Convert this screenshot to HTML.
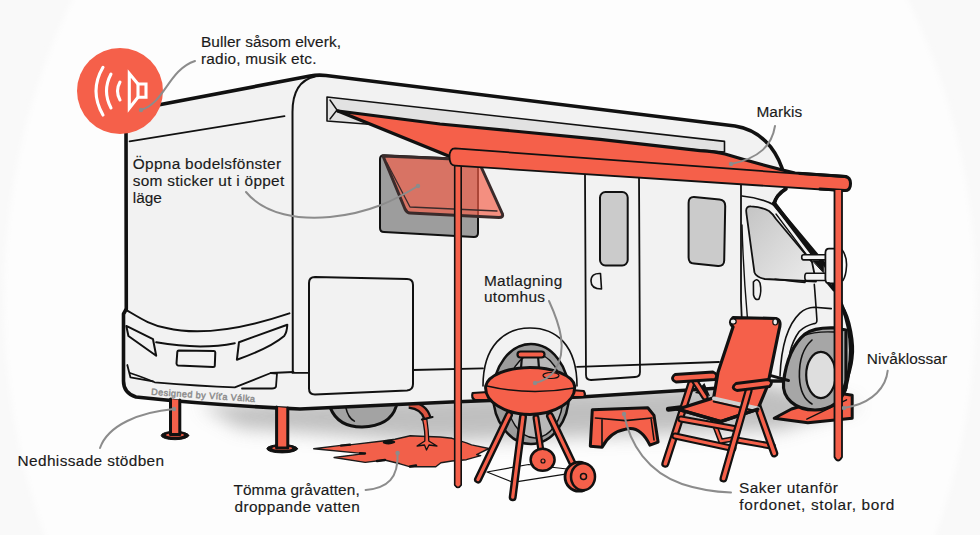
<!DOCTYPE html>
<html><head><meta charset="utf-8">
<style>
html,body{margin:0;padding:0;width:980px;height:535px;overflow:hidden;background:#fbfbfb;}
svg{display:block;}
text{font-family:"Liberation Sans",sans-serif;fill:#1a1a1a;font-size:15.4px;stroke:#1a1a1a;stroke-width:0.15px;}
</style></head><body>
<svg width="980" height="535" viewBox="0 0 980 535">
<defs>
<filter id="soft" x="-10%" y="-10%" width="120%" height="120%"><feGaussianBlur stdDeviation="2.5"/></filter>
<filter id="blur8" x="-20%" y="-50%" width="140%" height="200%"><feGaussianBlur stdDeviation="9"/></filter>
<linearGradient id="cabwin" x1="0" y1="0" x2="1" y2="1"><stop offset="0" stop-color="#c4c4c4"/><stop offset="1" stop-color="#ececec"/></linearGradient>
</defs>
<rect width="980" height="535" fill="#f9f9f9"/>
<ellipse cx="490" cy="300" rx="486" ry="588" fill="#fdfdfd" filter="url(#soft)"/>

<!-- shadow under RV -->
<path d="M200,405 L760,382 L860,405 L780,430 L430,442 L240,428 Z" fill="#b0b0b0" filter="url(#blur8)" opacity="0.8"/>

<g id="rv" stroke="#111" stroke-linejoin="round" stroke-linecap="round" fill="none">
<!-- far wheel -->
<path d="M328,400 L330.2,407.6 Q338,427 362,427 Q390,426 396.1,406.6 L398,400 Z" fill="#a3a3a3" stroke-width="3"/>
<path d="M345.7,407 Q348,418 354.4,421.2" stroke-width="1.5"/>
<!-- puddle -->
<path d="M313.7,448.8 L340.9,445.4 L349.7,444.9 L382.7,441 L395,439.3 L405,437 L410.3,435.7 L420.5,436.2 L440,437 L452,438.3 L466.4,442.9 L471.5,444.9 L488.9,448.5 L476.6,454.6 L480.7,455.6 L466.4,459.7 L452,461 L440.9,462.8 L435.8,466.8 L410.3,466.8 L400,463.8 L384.6,460 L365.2,462.4 L334.1,457.5 L364.2,453.6 Z" fill="#f2604a" stroke="#1a1a1a" stroke-width="1.4"/>
<path d="M341,445.6 L350,444.6 M384,442.3 Q389,440 394,442 Q389,444.5 384,442.3 M410,466.5 L416,465.5 M360,453.2 L365,453.5 M377,461 L385,460" stroke="#111" stroke-width="2.4"/>
<!-- pipe -->
<path d="M422.5,419 Q425.5,432 424.8,441 L417,446 L424.5,445 L426.5,450 L429,445 L437,446 L428.8,441 Q428.5,430 426.8,419 Z" fill="#f5604a" stroke-width="1.3"/>
<path d="M409,404.5 Q424,406 427.5,418.5" stroke="#111" stroke-width="8.5" stroke-linecap="butt"/>
<path d="M409,404.5 Q424,406 427.5,418.5" stroke="#dc5440" stroke-width="4" stroke-linecap="butt"/>
<path d="M422,419.5 L432.5,417" stroke="#111" stroke-width="2.2"/>
<!-- main body -->
<path d="M126,124 Q126,112 137,109 L310,76 Q318,74.5 326,75.5 L735,126 C760,130 775,148 782,168 L786,189 Q776,195 774,204 L826,266 L842,306 C852,330 853,360 845,390 L782,381 L770,381 L720,388 L580,397 L451,402 L300,409 Q210,405 136,397 Q123.5,393 123.5,381 L123.5,314 L126.3,309 Z" fill="#f2f2f2" stroke-width="3.6"/>

<!-- rear details -->
<path d="M129.6,141.3 L284.5,116.2" stroke-width="1.8"/>
<path d="M292.8,372 L292.5,112 C292.5,92 299,80 315,76.5" stroke-width="2"/>
<path d="M125.3,309.4 C140,318 150,325 166.4,328 C200,336 240,330 289.4,313.4" stroke-width="2"/>
<path d="M126.3,325.9 L153,339.2 L156.2,355.7 L128.4,336 Z" stroke-width="2" fill="#f2f2f2"/>
<path d="M156.2,342.3 Q200,350 234.8,343.2" stroke-width="2"/>
<path d="M239,342.2 L287.3,324.7 Q287,332 284.2,336 Q270,348 236.9,359.7 Z" stroke-width="2" fill="#f2f2f2"/>
<path d="M178.8,350.6 L214,351 Q215.3,351 215.3,352.5 L214.8,365.5 Q214.8,367 213,367 L178,365.5 Q176.5,365 176.5,363.5 L177.3,352 Q177.5,350.6 178.8,350.6 Z" stroke-width="2" fill="#f2f2f2"/>
<path d="M127.3,365 L130.4,377.3 L153,381.4" stroke-width="1.8"/>
<path d="M130,373 Q145,378 154.7,382.3 Q200,386 234.8,387.4 L270.8,373 L277,373.5 L276,386.5 Q275.5,388.5 272,388.5 L242,388.5" stroke-width="1.8"/>
<path d="M270.8,373 L293.5,372" stroke-width="1.8"/>
<!-- side skirt -->
<path d="M292.5,372.9 L309,372.9 M413,370 L483,368.3 M577,366.8 L719,362" stroke-width="1.8"/>
<!-- hatch -->
<path d="M315,277 L407,279 Q413,279 413,285 L413,384 Q413,390 407,390.5 L315,394.5 Q309,394.5 309,388.5 L309,283 Q309,277 315,277 Z" stroke-width="2"/>
<!-- door -->
<path d="M585,175 L586,375 Q586,380 591,380 L635,377 Q640,377 640,372 L639,175" stroke-width="1.8"/>
<rect x="600" y="192" width="27.7" height="73.5" rx="5.5" fill="#cbcbcb" stroke-width="2"/>
<path d="M600.5,273.5 L601.5,289 Q591,289 591,281 Q591,273 600.5,273.5 Z" stroke-width="1.6"/>
<path d="M694,197 L719.5,199.5 Q725.2,200 725.2,206 L724.2,260.5 Q724.1,266.4 718,266 L694,263.6 Q688.6,263.2 688.6,257.5 L688.6,203 Q688.6,196.8 694,197 Z" fill="#cbcbcb" stroke-width="2"/>
<!-- cab -->
<path d="M741,184 L741,300 Q742,340 748,378" stroke-width="1.8"/>
<path d="M742,225 Q744,300 754,378" stroke-width="1.4"/>
<path d="M742,196 Q762,198 776,206" stroke-width="1.6"/>
<path d="M746.2,211 Q746,206 751,206.4 Q762,207 769,211 Q773,214 776,219 L812,262 L816,281.5 L764.7,279 Q756,277 754.4,272.2 L746.5,214 Z" fill="url(#cabwin)" stroke-width="1.8"/>
<path d="M774,203 L812,253" stroke-width="4"/>
<path d="M776,214 L812,262" stroke-width="1.3"/>
<path d="M775,279.2 Q795,281.5 805,282.4" stroke-width="1.6"/>
<path d="M753.4,282 Q757,277 760,283 Q762,292 759,299 Q755,301 753.5,295 Z" stroke-width="1.6"/>
<!-- fender / cab lower -->
<path d="M814.3,284.4 Q815.6,300 816.9,319.7 Q817,323.6 814.3,323.6 Q805,326 799.2,331.5 Q793,340 790,352 L786,378" stroke-width="1.6"/>
<path d="M780,376 Q782,330 799.9,313.2 Q806,307.5 814.3,307.3 L831.3,308.6" stroke-width="1.6"/>

<!-- side rear wheel -->
<path d="M483,386 C483,345 505,328 530,328 C556,328 577,345 577,386" stroke-width="1.6"/>
<ellipse cx="531" cy="394" rx="38" ry="50" fill="#9c9c9c" stroke-width="2.5"/>
<ellipse cx="535" cy="396" rx="28" ry="42" fill="#b8b8b8" stroke-width="1.5"/>
<!-- level block -->
<path d="M774.2,418.2 L791.5,409 L842.6,393.7 L852.2,395.2 L852.2,418.2 L807.9,422.8 Z" fill="#f5604a" stroke-width="3"/>
<path d="M806.8,419.2 L846.6,399.8" stroke-width="1.3"/>
<!-- front wheel -->
<path d="M846,330 L834,327.9 C822,327.5 812,329 805,334 C793,344 786,362 783.5,382 C782,398 795,410 815,410 C832,410 842,400 846,388 Z" fill="#a6a6a6" stroke-width="3.2"/>
<path d="M812,340 C803,348 799,362 799.4,377 C800,392 805,400 812,404" stroke-width="1.6"/>
<path d="M803,336 Q815,331 834,332" stroke-width="1.4"/>
<ellipse cx="820.9" cy="375" rx="14.7" ry="23.1" fill="#dedede" stroke-width="2.2"/>
<path d="M770,375.4 L788.5,380.5" stroke-width="3"/>
<!-- cab front bumper side -->
<path d="M841.5,306 C850,318 854,345 852,358 C851,370 846,382 842.3,392.5" stroke-width="3.2"/>
<!-- mirror -->
<path d="M813,261 L823.3,261 L823.3,272.2 Z" fill="#111" stroke-width="1"/>
<path d="M803.5,254.8 L826.4,254.8 L826.4,259.9 L803.5,259.9 Q801.7,259.9 801.7,257.3 Q801.7,254.8 803.5,254.8 Z" fill="#f2f2f2" stroke-width="1.6"/>
<path d="M806.5,273.3 L826.4,273.3 L826.4,280.5 L806.5,280.5 Q804.8,280.5 804.8,277 Q804.8,273.3 806.5,273.3 Z" fill="#f2f2f2" stroke-width="1.6"/>
<path d="M825.4,253 Q825.4,248.6 829,248.6 L836,248.6 L836,283.5 L829,283.5 Q825.4,283.5 825.4,279 Z" fill="#f2f2f2" stroke-width="1.8"/>
<path d="M841.8,249.6 Q847,256 846.5,266 Q846,276 842.9,280.5" stroke-width="1.6"/>
<path d="M828.6,283.5 L834,290" stroke-width="3"/>
<!-- legs -->
<ellipse cx="175" cy="435.5" rx="13.8" ry="4.2" fill="#111"/>
<ellipse cx="175" cy="435" rx="9" ry="1.8" fill="#e85a45" stroke="none"/>
<path d="M170.5,399 L170.5,434.5 L179.8,434.5 L179.8,400" fill="#f5604a" stroke-width="3"/>
<ellipse cx="282.2" cy="448.7" rx="15.4" ry="4.2" fill="#111"/>
<ellipse cx="282.2" cy="448.3" rx="10" ry="1.8" fill="#e85a45" stroke="none"/>
<path d="M276.6,407 L276.6,448 L287.8,448 L287.8,408" fill="#f5604a" stroke-width="3"/>

<!-- awning housing -->
<path d="M327,97 L724.5,141.4 L724.5,152 L327,121 Z" fill="#e2e2e2" stroke-width="1.6"/>
<path d="M330,100 L337,110 L330,119" stroke-width="1.4"/>
<!-- canvas -->
<path d="M338,111 L440,124 L600,139.3 L700,150.6 Q715,151.5 725,154 C745,160 765,166 790,172 L846,176.5 L452,157 Z" fill="#f5604a" stroke="none"/>
<path d="M338,111 L440,124 L600,139.3 L700,150.6 Q715,151.5 725,154 C745,160 765,166 795,173 L846,176.5" stroke-width="3.2"/>
<path d="M338,111 L451,157" stroke-width="3.5"/>
<!-- window opening -->
<path d="M384,155.3 L474,159.5 Q478,159.7 478,164 L478,233 Q478,237 474,237 L384,232 Q380,232 380,228 L380,159 Q380,155.3 384,155.3 Z" fill="#9d9d9d" stroke-width="2"/>
<!-- pane -->
<path d="M383,156 L478,160 L502.5,214 Q503.5,217.5 499,217.5 L410,213 Q407,213 405,209 Z" fill="#f5604a" fill-opacity="0.68" stroke="#3a2b2b" stroke-width="3"/>
<path d="M387,163 L410,207 L497,211" stroke="#3a2b2b" stroke-width="1.3"/>
<!-- pole 1 -->
<path d="M454.7,160 L454.7,485 Q458,490 461.2,485 L461.2,160" fill="#f5604a" stroke-width="1.6"/>
<!-- bar -->
<path d="M455,148.4 L845,177.2 Q850.5,177.7 850.5,184 Q850.5,191 845,191 L455,165.6 Q449.5,165.4 449.5,157 Q449.5,148.4 455,148.4 Z" fill="#f5604a" stroke-width="1.8"/>
<path d="M800,173.5 L845,176.5 Q850.5,177 850.5,183.5 Q850.5,190.5 845,190.5 L820,189" stroke-width="3"/>
<!-- A pillar top -->
<path d="M785,189 Q776,195 774,204" stroke-width="3"/>
<!-- pole 2 -->
<path d="M834.5,190 L834.5,457 Q838,464 842,457 L842,190" fill="#f5604a" stroke-width="1.8"/>

<!-- grill legs and rack -->
<path d="M487,472 L528.6,464.5 L567,469 M487,472 L512.7,482.3 L567,473.9" stroke-width="1.2"/>
<path d="M509,415 L478,479.5" stroke="#111" stroke-width="8"/>
<path d="M509,415 L478,479.5" stroke="#f5604a" stroke-width="3.2"/>
<path d="M536,417.8 L542.6,461.7" stroke="#111" stroke-width="7"/>
<path d="M536,417.8 L542.6,461.7" stroke="#f5604a" stroke-width="2.6"/>
<ellipse cx="542.6" cy="459.8" rx="12" ry="11" fill="#f5604a" stroke-width="2.5"/>
<circle cx="543" cy="461" r="2" stroke-width="1.2"/>
<path d="M523,416.8 L512.7,497.2" stroke="#111" stroke-width="8"/>
<path d="M523,416.8 L512.7,497.2" stroke="#f5604a" stroke-width="3.2"/>
<path d="M550,416 L573.5,465.4" stroke="#111" stroke-width="8"/>
<path d="M550,416 L573.5,465.4" stroke="#f5604a" stroke-width="3.2"/>
<ellipse cx="579" cy="476.7" rx="14" ry="14.5" fill="#f5604a" stroke-width="2.8"/>
<ellipse cx="583" cy="476.7" rx="12" ry="13.5" fill="#f5604a" stroke-width="2.5"/>
<circle cx="583.5" cy="476.5" r="3" fill="#f5604a" stroke-width="1.5"/>
<!-- grill bowl -->
<path d="M472.6,393 L488,392 L489,400 L475,400 Q471,398 472.6,393 Z" fill="#f5604a" stroke-width="2.2"/>
<path d="M571,390 L583.8,391 Q586,395 583.8,397 L572,397 Z" fill="#f5604a" stroke-width="2.2"/>
<path d="M485.7,386 C488,375 508,367.5 530,367.5 C552,367.5 573,375 574.6,386 C576,402 555,414 530,414.6 C505,414 484,402 485.7,386 Z" fill="#f5604a" stroke-width="3"/>
<path d="M487,386 Q530,396 574,388" stroke-width="1.5"/>
<path d="M521,368 L522,356 M539,368 L538,356" stroke-width="2.2"/>
<rect x="517.5" y="351.5" width="27" height="6" rx="3" fill="#f5604a" stroke-width="2.2"/>
<ellipse cx="551" cy="375.5" rx="8" ry="3" stroke-width="1.2"/>
<!-- stool -->
<path d="M592.3,409.8 L647.8,407.7 L654,415.4 L658.1,442.1 L649.9,445.2 Q640,425 625.2,429.3 Q610,432 602.1,447.3 L590.3,446.2 Z" fill="#f5604a" stroke-width="3"/>
<path d="M595.4,418 L625.2,420.6 L652,418 M602,420 L602,447 M651,418 L654,440" stroke-width="1.6"/>
<!-- chair -->
<path d="M668.4,409.2 L712,404" stroke-width="5"/>
<path d="M704.4,383 L695,393 L710,396 Z" fill="#111" stroke="none"/>
<path d="M692,381.5 L665.3,463.7" stroke="#111" stroke-width="8"/>
<path d="M692,381.5 L665.3,463.7" stroke="#f5604a" stroke-width="3.6"/>
<path d="M695.1,381.5 L705,397" stroke="#111" stroke-width="7"/>
<path d="M695.1,381.5 L705,397" stroke="#f5604a" stroke-width="3"/>
<path d="M675,436 L733,448.5" stroke="#111" stroke-width="7"/>
<path d="M675,436 L733,448.5" stroke="#f5604a" stroke-width="3"/>
<path d="M737.3,440.1 L772.2,446.2" stroke="#111" stroke-width="7"/>
<path d="M737.3,440.1 L772.2,446.2" stroke="#f5604a" stroke-width="3"/>
<path d="M712.6,419.5 L720.8,441.1 L733.2,439" stroke="#111" stroke-width="5.5"/>
<path d="M712.6,419.5 L720.8,441.1 L733.2,439" stroke="#f5604a" stroke-width="2.4"/>
<path d="M751.7,389.7 L774.3,453.4" stroke="#111" stroke-width="8"/>
<path d="M751.7,389.7 L774.3,453.4" stroke="#f5604a" stroke-width="3.6"/>
<path d="M733,327 Q728,322 733,317.6 L776,318.5 Q782,320 779,330 L767.6,385.7 L757.8,409.2 L720.8,421.6 L677.6,409.2 L713.6,397.9 L718,372.3 Z" fill="#f5604a" stroke-width="3.2"/>
<path d="M714,398.5 L757.8,408.5" stroke="#d0d0d0" stroke-width="4"/>
<path d="M713.6,401.5 L757.8,411.5" stroke-width="1.8"/>
<path d="M677.6,409.2 L720.8,421.6 L757.8,409.2" stroke-width="3.4"/>
<path d="M681,419 L737,429" stroke="#111" stroke-width="7"/>
<path d="M681,419 L737,429" stroke="#f5604a" stroke-width="3"/>
<ellipse cx="733.2" cy="321.5" rx="3" ry="2.6" fill="#eee" stroke-width="1.2"/>
<ellipse cx="775.2" cy="322" rx="2.4" ry="3" fill="#eee" stroke-width="1.2"/>
<path d="M748.6,390.7 L723.5,478.5" stroke="#111" stroke-width="8"/>
<path d="M748.6,390.7 L723.5,478.5" stroke="#f5604a" stroke-width="3.6"/>
<path d="M675,374.5 L713,372 Q719,374.5 715,379.5 L676,382 Q669.5,379 675,374.5 Z" fill="#f5604a" stroke-width="2.8"/>
<path d="M736,383.5 L768,379.5 Q774,382 769.5,386.5 L737,390.5 Q730,388 736,383.5 Z" fill="#f5604a" stroke-width="2.8"/>
</g>

<!-- speaker circle -->
<circle cx="120" cy="91" r="43" fill="#f5604a"/>
<g stroke="#fff" fill="none" stroke-width="3.1" stroke-linecap="round">
<path d="M103,67.3 Q89,91 103,115"/>
<path d="M111,74 Q102,91 111,108"/>
<path d="M120,82 Q115,91 120,100"/>
<path d="M129.3,73.5 L129.3,108.2 L138,97.3 L138,84 Z" stroke-linejoin="miter"/>
<path d="M138,84 L146,84 L146,97.3 L138,97.3"/>
</g>
<!-- callouts -->
<g stroke="#8c8c8c" stroke-width="2" fill="none" stroke-linecap="round">
<path d="M141,110 C165,103 168,70 195,61"/>
<path d="M246,192 C265,215 300,220 330,217 C370,213 395,200 418,186"/>
<path d="M775,126 C772,145 760,158 731,164"/>
<path d="M549,301 C560,325 568,350 555,370 C550,378 540,382 535,383"/>
<path d="M174,409 C140,412 108,425 100,448"/>
<path d="M397.6,453 C398.5,478 388,488 365.6,490"/>
<path d="M624,414 C630,445 648,472 682,484 C700,490 718,492 731,492.5"/>
<path d="M887.7,370.7 C886,388 872,401 853,406 L844,408"/>
</g>
<g fill="#8c8c8c">
<circle cx="141" cy="110" r="2.2"/><circle cx="418" cy="186" r="2.2"/><circle cx="731" cy="164" r="2.2"/>
<circle cx="535" cy="383" r="2.2"/><circle cx="174" cy="409" r="2.2"/><circle cx="397.6" cy="453" r="2.2"/>
<circle cx="624" cy="414" r="2.2"/><circle cx="844" cy="408" r="2.2"/>
</g>
<!-- watermark -->
<text x="151.1" y="394.8" transform="rotate(4 151.1 394.8)" style="font-size:9px;font-weight:normal;fill:#8c8c8c;stroke:#8c8c8c;stroke-width:0.45px" textLength="104" lengthAdjust="spacing">Designed by Víťa Válka</text>
<!-- labels -->
<text x="201" y="47.4" textLength="140" lengthAdjust="spacing">Buller såsom elverk,</text>
<text x="201" y="64.2" textLength="115.5" lengthAdjust="spacing">radio, musik etc.</text>
<text x="132.8" y="169.4" textLength="148.3" lengthAdjust="spacing">Öppna bodelsfönster</text>
<text x="132.8" y="186.1" textLength="151.4" lengthAdjust="spacing">som sticker ut i öppet</text>
<text x="132.8" y="202.9" textLength="29" lengthAdjust="spacing">läge</text>
<text x="756.4" y="117.1" textLength="45.7" lengthAdjust="spacing">Markis</text>
<text x="483.9" y="286" textLength="78.3" lengthAdjust="spacing">Matlagning</text>
<text x="483.9" y="302.4" textLength="61.1" lengthAdjust="spacing">utomhus</text>
<text x="866.8" y="363.8" textLength="80.3" lengthAdjust="spacing">Nivåklossar</text>
<text x="17.6" y="466" textLength="146.5" lengthAdjust="spacing">Nedhissade stödben</text>
<text x="233.4" y="494.9" textLength="126.3" lengthAdjust="spacing">Tömma gråvatten,</text>
<text x="234.5" y="512" textLength="125.2" lengthAdjust="spacing">droppande vatten</text>
<text x="738.9" y="493.4" textLength="99" lengthAdjust="spacing">Saker utanför</text>
<text x="739.3" y="510.2" textLength="155" lengthAdjust="spacing">fordonet, stolar, bord</text>
</svg>
</body></html>
